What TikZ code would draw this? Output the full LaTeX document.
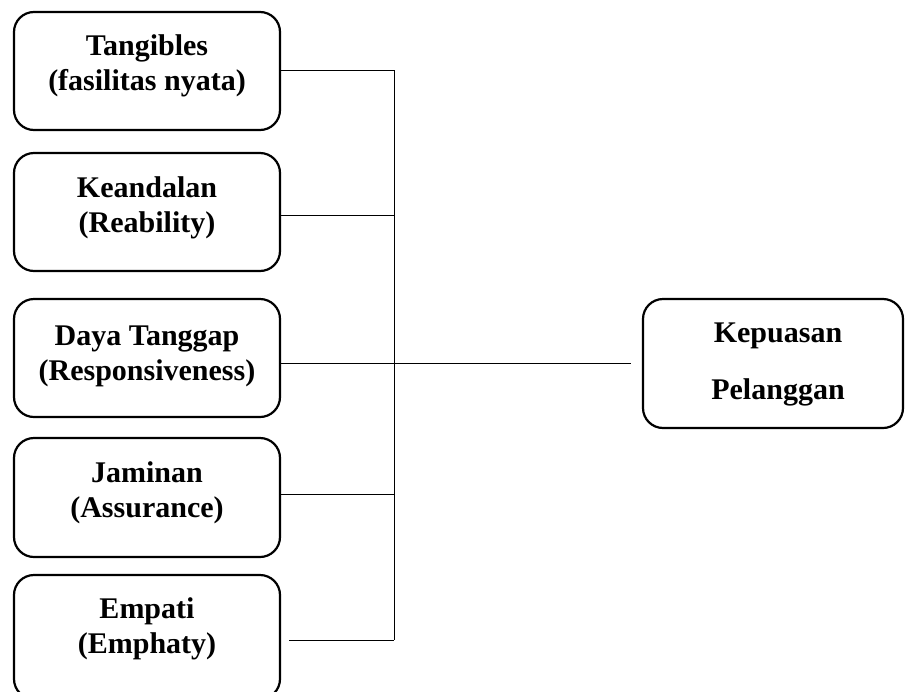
\documentclass[tikz,border=0pt]{standalone}
\usepackage{fontspec}
\setmainfont{Liberation Serif}
\begin{document}
\begin{tikzpicture}[x=1pt,y=-1pt,
  box/.style={draw=black,line width=2.2pt,rounded corners=20pt,inner sep=0pt,minimum width=266pt},
  lbl/.style={anchor=base,inner sep=0pt,font=\fontsize{30}{35}\selectfont\bfseries},
  wire/.style={draw=black,line width=0.9pt}]
\useasboundingbox (0,0) rectangle (905,691);
\clip (0,0) rectangle (905,691);
% left boxes
\node[box,minimum height=118pt] (b1) at (147,71) {};
\node[box,minimum height=118pt] (b2) at (147,212) {};
\node[box,minimum height=118pt] (b3) at (147,358) {};
\node[box,minimum height=119pt] (b4) at (147,497.5) {};
\node[box,minimum height=124pt] (b5) at (147,637) {};
% right box
\node[box,minimum width=260pt,minimum height=129pt] (k) at (773,363.5) {};
% labels
\node[lbl] (t1a) at (147,55.5) {Tangibles};
\node[lbl] (t1b) at (147,90.5) {(fasilitas nyata)};
\node[lbl] (t2a) at (147,197) {Keandalan};
\node[lbl] (t2b) at (147,232) {(Reability)};
\node[lbl] (t3a) at (147,345) {Daya Tanggap};
\node[lbl] (t3b) at (147,380) {(Responsiveness)};
\node[lbl] (t4a) at (147,482) {Jaminan};
\node[lbl] (t4b) at (147,517) {(Assurance)};
\node[lbl] (t5a) at (147,618) {Empati};
\node[lbl] (t5b) at (147,653) {(Emphaty)};
\node[lbl] (ka) at (778,342) {Kepuasan};
\node[lbl] (kb) at (778,399) {Pelanggan};
% junctions on the bus
\coordinate (j1) at (394,70);
\coordinate (j2) at (394,215);
\coordinate (j3) at (394,363);
\coordinate (j4) at (394,494);
\coordinate (j5) at (394,640);
% connectors
\draw[wire] (j1) -- (j5);
\draw[wire] (b1.east |- j1) -- (j1);
\draw[wire] (b2.east |- j2) -- (j2);
\draw[wire] (b3.east |- j3) -- ([xshift=-11pt]k.west |- j3);
\draw[wire] (b4.east |- j4) -- (j4);
\draw[wire] ([xshift=8pt]b5.east |- j5) -- (j5);
\end{tikzpicture}
\end{document}
